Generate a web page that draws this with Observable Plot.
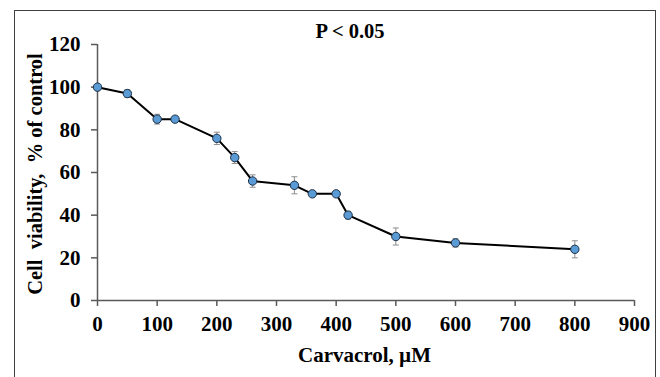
<!DOCTYPE html>
<html>
<head>
<meta charset="utf-8">
<script src="https://cdn.jsdelivr.net/npm/d3@7"></script>
<script src="https://cdn.jsdelivr.net/npm/@observablehq/plot@0.6"></script>
<style>
  html, body { margin: 0; padding: 0; background: #fff; }
  #wrap { position: relative; width: 660px; height: 377px; overflow: hidden; }
  #border { position: absolute; left: 14px; top: 10px; width: 640px; height: 420px;
            border: 1.5px solid #404040; pointer-events: none; }
  svg text { white-space: pre; }
</style>
</head>
<body>
<div id="wrap"><div id="border"></div></div>
<script>
// Data
const concentration = [0, 50, 100, 130, 200, 230, 260, 330, 360, 400, 420, 500, 600, 800];
const viability     = [100, 97, 85, 85, 76, 67, 56, 54, 50, 50, 40, 30, 27, 24];
const errorSD       = [0, 1.8, 2.3, 0, 2.9, 2.8, 2.9, 4, 0, 0.8, 1.8, 4, 1.9, 4];
const xTicks = [0, 100, 200, 300, 400, 500, 600, 700, 800, 900];
const yTicks = [0, 20, 40, 60, 80, 100, 120];
const titleText = "P < 0.05";
const xLabel = "Carvacrol, µM";
const yLabel = "Cell  viability,  % of control";

const data = concentration.map((c, i) => ({x: c, y: viability[i], e: errorSD[i]}));
const withErr = data.filter(d => d.e > 0);

const capSymbol = {
  draw(ctx, size) {
    const r = Math.sqrt(size / Math.PI);
    ctx.moveTo(-r, 0);
    ctx.lineTo(r, 0);
  }
};

const axisColor = "#595959";

const chart = Plot.plot({
  width: 660,
  height: 377,
  marginLeft: 97,
  marginRight: 26,
  marginTop: 44,
  marginBottom: 77,
  style: {
    fontFamily: "'Liberation Serif', 'Times New Roman', serif",
    fontSize: "20px",
    fontWeight: "bold",
    color: "#000",
    background: "transparent",
    overflow: "visible"
  },
  x: {domain: [0, 900]},
  y: {domain: [0, 120]},
  marks: [
    Plot.axisX({ticks: xTicks, tickSize: 6, tickPadding: 10, stroke: axisColor, fill: "#000", strokeWidth: 1.5, fontSize: 21, label: null}),
    Plot.axisY({ticks: yTicks, tickSize: 6, tickPadding: 11, stroke: axisColor, fill: "#000", strokeWidth: 1.5, fontSize: 21, label: null}),
    Plot.ruleY([0], {stroke: axisColor, strokeWidth: 1.5}),
    Plot.ruleX([0], {stroke: axisColor, strokeWidth: 1.5}),
    Plot.link(withErr, {x1: "x", x2: "x", y1: d => d.y - d.e, y2: d => d.y + d.e, stroke: "#8c8c8c", strokeWidth: 1}),
    Plot.dot(withErr, {x: "x", y: d => d.y + d.e, symbol: capSymbol, r: 3, stroke: "#8c8c8c", strokeWidth: 1, fill: "none"}),
    Plot.dot(withErr, {x: "x", y: d => d.y - d.e, symbol: capSymbol, r: 3, stroke: "#8c8c8c", strokeWidth: 1, fill: "none"}),
    Plot.line(data, {x: "x", y: "y", stroke: "#000", strokeWidth: 2}),
    Plot.dot(data, {x: "x", y: "y", r: 4.2, fill: "#5b9bd5", stroke: "#1c2f45", strokeWidth: 1}),
    Plot.text([titleText], {frameAnchor: "top", text: d => d, lineAnchor: "bottom", dx: -16, dy: -7, fontSize: 20.5, fill: "#000"}),
    Plot.text([xLabel], {frameAnchor: "bottom", text: d => d, lineAnchor: "bottom", dx: -1.5, dy: 61, fontSize: 21, fill: "#000"}),
    Plot.text([yLabel], {frameAnchor: "left", text: d => d, rotate: -90, textAnchor: "middle", lineAnchor: "bottom", dx: -56, dy: 1.5, fontSize: 20.5, fill: "#000"})
  ]
});

document.getElementById("wrap").prepend(chart);
</script>
</body>
</html>
